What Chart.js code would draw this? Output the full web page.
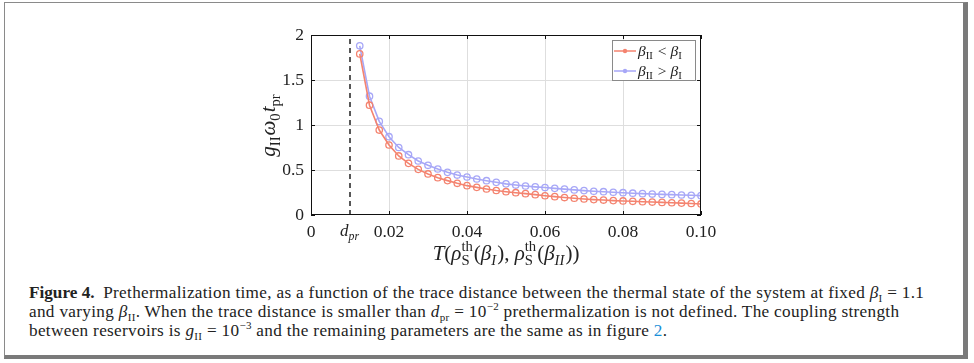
<!DOCTYPE html>
<html>
<head>
<meta charset="utf-8">
<script src="https://cdn.jsdelivr.net/npm/chart.js@4/dist/chart.umd.min.js"></script>
<style>
  html, body { margin: 0; padding: 0; background: #fff; }
  body { width: 974px; height: 363px; position: relative; overflow: hidden; }
  #frame {
    position: absolute; left: 4px; top: 2px; width: 964px; height: 357px;
    border-left: 1px solid #8a8a8a; border-top: 1px solid #8a8a8a;
    border-right: 5px solid #7a7a7a; border-bottom: 4px solid #7a7a7a;
    box-sizing: border-box;
  }
  #wrap { position: absolute; left: 0; top: 0; width: 974px; height: 272px; }
  #caption {
    position: absolute; left: 29px; top: 283px; width: 935px; white-space: nowrap;
    font-family: "Liberation Serif", serif; font-size: 17.2px; letter-spacing: 0.32px;
    line-height: 19px; color: #222;
  }
  #caption b { font-weight: bold; margin-right: 4px; letter-spacing: 0; }
  #caption i { font-style: italic; }
  #caption sub, #caption sup { font-size: 11px; line-height: 0; }
  #caption .ref { color: #1a8fd8; }
</style>
</head>
<body>
<div id="frame"></div>
<div id="wrap"><canvas id="chart" width="974" height="272"></canvas></div>
<div id="caption">
  <b>Figure 4.</b> Prethermalization time, as a function of the trace distance between the thermal state of the system at fixed <i>β</i><sub>I</sub> = 1.1<br>
  and varying <i>β</i><sub>II</sub>. When the trace distance is smaller than <i>d</i><sub>pr</sub> = 10<sup>−2</sup> prethermalization is not defined. The coupling strength<br>
  between reservoirs is <i>g</i><sub>II</sub> = 10<sup>−3</sup> and the remaining parameters are the same as in figure <span class="ref">2</span>.
</div>
<script>
// trace distance values (x)
const traceDist = [0.0125, 0.015, 0.0175, 0.02, 0.0225, 0.025, 0.0275, 0.03, 0.0325, 0.035,
  0.0375, 0.04, 0.0425, 0.045, 0.0475, 0.05, 0.0525, 0.055, 0.0575, 0.06,
  0.0625, 0.065, 0.0675, 0.07, 0.0725, 0.075, 0.0775, 0.08, 0.0825, 0.085,
  0.0875, 0.09, 0.0925, 0.095, 0.0975, 0.1];
// beta_II < beta_I
const lowerBeta = [1.79, 1.22, 0.944, 0.778, 0.656, 0.574, 0.507, 0.456, 0.415, 0.382,
  0.352, 0.326, 0.307, 0.289, 0.272, 0.259, 0.248, 0.237, 0.226, 0.214,
  0.204, 0.194, 0.186, 0.178, 0.171, 0.166, 0.160, 0.156, 0.152, 0.148,
  0.144, 0.140, 0.136, 0.132, 0.128, 0.123];
// beta_II > beta_I
const higherBeta = [1.88, 1.32, 1.04, 0.87, 0.75, 0.67, 0.60, 0.552, 0.511, 0.474,
  0.444, 0.422, 0.40, 0.381, 0.363, 0.346, 0.333, 0.322, 0.313, 0.305,
  0.296, 0.288, 0.279, 0.271, 0.264, 0.259, 0.253, 0.248, 0.242, 0.237,
  0.233, 0.229, 0.226, 0.222, 0.219, 0.215];
const dPr = 0.01;
const xTicks = [0, 0.01, 0.02, 0.04, 0.06, 0.08, 0.1];
const yTicks = [0, 0.5, 1, 1.5, 2];

const RED = "#f4836f";
const BLUE = "#a7a7f7";
const FONT = "Liberation Serif";

// draw a little math string: parts = [{t, it, sub, sup, subIt, supIt}]
function mathWidth(ctx, parts, size) {
  let w = 0;
  for (const p of parts) {
    ctx.font = (p.it ? "italic " : "") + size + "px '" + FONT + "'";
    w += ctx.measureText(p.t || "").width;
    let s = 0;
    if (p.sub) { ctx.font = (p.subIt ? "italic " : "") + (size * 0.7) + "px '" + FONT + "'"; s = Math.max(s, ctx.measureText(p.sub).width); }
    if (p.sup) { ctx.font = (p.supIt ? "italic " : "") + (size * 0.7) + "px '" + FONT + "'"; s = Math.max(s, ctx.measureText(p.sup).width); }
    w += s + (s ? 1 : 0);
  }
  return w;
}
function drawMath(ctx, x, y, parts, size) {
  ctx.textBaseline = "alphabetic";
  ctx.textAlign = "left";
  for (const p of parts) {
    ctx.font = (p.it ? "italic " : "") + size + "px '" + FONT + "'";
    ctx.fillText(p.t || "", x, y);
    x += ctx.measureText(p.t || "").width;
    let s = 0;
    if (p.sub) {
      ctx.font = (p.subIt ? "italic " : "") + (size * 0.7) + "px '" + FONT + "'";
      ctx.fillText(p.sub, x, y + size * 0.22);
      s = Math.max(s, ctx.measureText(p.sub).width);
    }
    if (p.sup) {
      ctx.font = (p.supIt ? "italic " : "") + (size * 0.7) + "px '" + FONT + "'";
      ctx.fillText(p.sup, x, y - size * 0.42);
      s = Math.max(s, ctx.measureText(p.sup).width);
    }
    x += s + (s ? 1 : 0);
  }
}

const xTitle = [
  { t: "T", it: 1 }, { t: "(" }, { t: "ρ", it: 1, sup: "th", sub: "S" }, { t: "(" },
  { t: "β", it: 1, sub: "I", subIt: 1 }, { t: "), " }, { t: "ρ", it: 1, sup: "th", sub: "S" },
  { t: "(" }, { t: "β", it: 1, sub: "II", subIt: 1 }, { t: "))" }
];
const yTitle = [
  { t: "g", it: 1, sub: "II" }, { t: "ω", it: 1, sub: "0" }, { t: "t", it: 1, sub: "pr" }
];
const legendItems = [
  { color: RED, parts: [{ t: "β", it: 1, sub: "II" }, { t: " < " }, { t: "β", it: 1, sub: "I" }] },
  { color: BLUE, parts: [{ t: "β", it: 1, sub: "II" }, { t: " > " }, { t: "β", it: 1, sub: "I" }] }
];

const decor = {
  id: "decor",
  afterDraw(chart) {
    const { ctx, chartArea: a, scales } = chart;
    ctx.save();
    // box + inward ticks
    ctx.strokeStyle = "#111";
    ctx.lineWidth = 1;
    ctx.strokeRect(a.left + 0.5, a.top + 0.5, a.right - a.left - 1, a.bottom - a.top - 1);
    ctx.beginPath();
    for (const v of yTicks) {
      const py = Math.round(scales.y.getPixelForValue(v)) + 0.5;
      ctx.moveTo(a.left, py); ctx.lineTo(a.left + 4, py);
      ctx.moveTo(a.right, py); ctx.lineTo(a.right - 4, py);
    }
    for (const v of xTicks) {
      if (v === dPr) continue;
      const px = Math.round(scales.x.getPixelForValue(v)) + 0.5;
      ctx.moveTo(px, a.bottom); ctx.lineTo(px, a.bottom - 4);
      ctx.moveTo(px, a.top); ctx.lineTo(px, a.top + 4);
    }
    ctx.stroke();

    ctx.fillStyle = "#222";
    // d_pr tick label
    const dx = scales.x.getPixelForValue(dPr);
    const dParts = [{ t: "d", it: 1, sub: "pr", subIt: 1 }];
    drawMath(ctx, dx - mathWidth(ctx, dParts, 17) / 2, a.bottom + 21, dParts, 17);

    // x title
    const xc = (a.left + a.right) / 2;
    drawMath(ctx, xc - mathWidth(ctx, xTitle, 21) / 2, 260, xTitle, 21);

    // y title rotated
    ctx.save();
    ctx.translate(275, (a.top + a.bottom) / 2);
    ctx.rotate(-Math.PI / 2);
    drawMath(ctx, -mathWidth(ctx, yTitle, 21) / 2, 0, yTitle, 21);
    ctx.restore();

    // legend
    const lx = 612.5, ly = 40.5, lw = 83, lh = 40;
    ctx.fillStyle = "#fff";
    ctx.fillRect(lx, ly, lw, lh);
    ctx.strokeStyle = "#8a8a8a";
    ctx.lineWidth = 1;
    ctx.strokeRect(lx, ly, lw, lh);
    legendItems.forEach((it, i) => {
      const cy = 51 + i * 20;
      ctx.strokeStyle = it.color;
      ctx.lineWidth = 1.5;
      ctx.beginPath();
      ctx.moveTo(614, cy); ctx.lineTo(636, cy);
      ctx.stroke();
      ctx.fillStyle = it.color;
      ctx.beginPath();
      ctx.arc(625, cy, 2.2, 0, Math.PI * 2);
      ctx.fill();
      ctx.fillStyle = "#222";
      drawMath(ctx, 638, cy + 5, it.parts, 15.5);
    });
    ctx.restore();
  }
};

new Chart(document.getElementById("chart"), {
  type: "line",
  data: {
    datasets: [
      {
        label: "dpr",
        data: [{ x: dPr, y: 0 }, { x: dPr, y: 2 }],
        borderColor: "#111", borderWidth: 1.4, borderDash: [5, 4],
        pointRadius: 0
      },
      {
        label: "βII < βI",
        data: traceDist.map((x, i) => ({ x, y: lowerBeta[i] })),
        borderColor: RED, borderWidth: 1.6,
        pointRadius: 3.2, pointBorderWidth: 1.3,
        pointBorderColor: RED, pointBackgroundColor: "rgba(0,0,0,0)"
      },
      {
        label: "βII > βI",
        data: traceDist.map((x, i) => ({ x, y: higherBeta[i] })),
        borderColor: BLUE, borderWidth: 1.6,
        pointRadius: 3.2, pointBorderWidth: 1.3,
        pointBorderColor: BLUE, pointBackgroundColor: "rgba(0,0,0,0)"
      }
    ]
  },
  options: {
    responsive: false,
    animation: false,
    layout: { padding: { left: 251, right: 273, top: 35, bottom: 32 } },
    plugins: { legend: { display: false }, tooltip: { enabled: false } },
    scales: {
      x: {
        type: "linear", min: 0, max: 0.1,
        afterBuildTicks: (s) => { s.ticks = xTicks.map(v => ({ value: v })); },
        afterFit: (s) => { s.height = 25; },
        border: { display: false },
        grid: {
          drawTicks: false,
          color: (c) => (c.tick && (c.tick.value === 0 || c.tick.value === dPr || c.tick.value === 0.1)) ? "rgba(0,0,0,0)" : "#dedede"
        },
        ticks: {
          autoSkip: false, maxRotation: 0, padding: 7,
          color: "#222", font: { family: FONT, size: 17.5 },
          callback: (v) => v === 0 ? "0" : (v === dPr ? "" : v.toFixed(2))
        }
      },
      y: {
        min: 0, max: 2,
        afterBuildTicks: (s) => { s.ticks = yTicks.map(v => ({ value: v })); },
        afterFit: (s) => { s.width = 60; },
        border: { display: false },
        grid: {
          drawTicks: false,
          color: (c) => (c.tick && (c.tick.value === 0 || c.tick.value === 2)) ? "rgba(0,0,0,0)" : "#dedede"
        },
        ticks: {
          padding: 7, color: "#222", font: { family: FONT, size: 17.5 },
          callback: (v) => String(v)
        }
      }
    }
  },
  plugins: [decor]
});
</script>
</body>
</html>
